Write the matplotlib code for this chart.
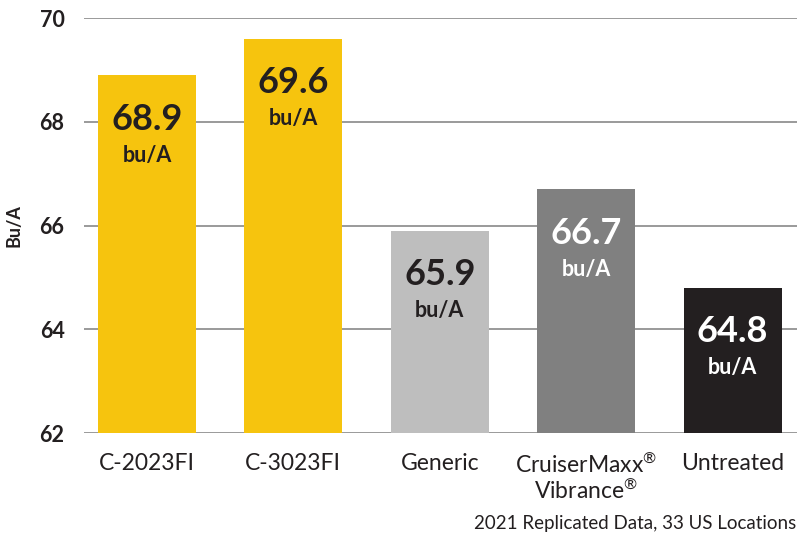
import matplotlib.pyplot as plt

plt.rcParams['font.family'] = ['Lato', 'DejaVu Sans']
plt.rcParams['mathtext.fontset'] = 'custom'
plt.rcParams['mathtext.rm'] = 'Lato'
plt.rcParams['mathtext.default'] = 'rm'

labels = ['C-2023FI', 'C-3023FI', 'Generic', 'CruiserMaxx$^{®}$\nVibrance$^{®}$', 'Untreated']
values = [68.9, 69.6, 65.9, 66.7, 64.8]
colors = ['#F6C40E', '#F6C40E', '#BEBEBE', '#808080', '#231F20']
text_colors = ['#231F20', '#231F20', '#231F20', 'white', 'white']

fig = plt.figure(figsize=(7.97, 5.34), dpi=100)
ax = fig.add_axes([0.1054, 0.189, 0.8946, 0.777])

x = range(len(values))
ax.bar(x, [v - 62 for v in values], bottom=62, width=0.67, color=colors, zorder=3)

for i, v in enumerate(values):
    ax.annotate('%.1f' % v, xy=(i, v), xytext=(0, -44), textcoords='offset pixels',
                ha='center', va='center', fontsize=26, fontweight='bold', color=text_colors[i], zorder=4)
    ax.annotate('bu/A', xy=(i, v), xytext=(0, -80), textcoords='offset pixels',
                ha='center', va='center', fontsize=15.5, fontweight='bold', color=text_colors[i], zorder=4)

ax.set_ylim(62, 70)
ax.set_xlim(-0.43, 4.44)
ax.set_yticks([62, 64, 66, 68, 70])
ax.yaxis.grid(True, color='#9A9A9A', linewidth=1.4, zorder=0)
for s in ax.spines.values():
    s.set_visible(False)
ax.tick_params(axis='y', length=0, pad=14, labelsize=15.5, labelcolor='#231F20')
for t in ax.get_yticklabels():
    t.set_fontweight('bold')
ax.set_xticks(list(x))
ax.set_xticklabels(labels, linespacing=1.1)
ax.tick_params(axis='x', length=0, pad=14, labelsize=16.5, labelcolor='#231F20')
ax.set_ylabel('Bu/A', fontsize=13, fontweight='bold', color='#231F20', labelpad=12)

fig.text(0.999, 0.004, '2021 Replicated Data, 33 US Locations', ha='right', va='bottom',
         fontsize=13.5, color='#231F20')

fig.savefig('out.png', dpi=100)
